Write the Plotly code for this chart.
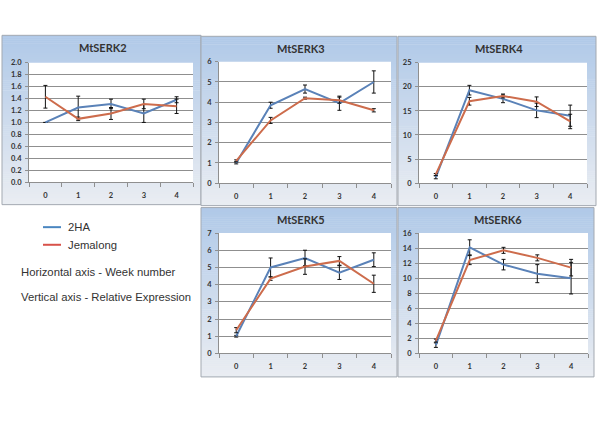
import plotly.graph_objects as go

W, H = 600, 424

weeks = ["0", "1", "2", "3", "4"]
x_vals = [0, 1, 2, 3, 4]

titles = ["MtSERK2", "MtSERK3", "MtSERK4", "MtSERK5", "MtSERK6"]

ha_serk2 = [1.00, 1.25, 1.31, 1.15, 1.38]
ha_serk2_err = [0.0, 0.19, 0.08, 0.15, 0.05]
jem_serk2 = [1.43, 1.06, 1.15, 1.31, 1.27]
jem_serk2_err = [0.19, 0.03, 0.10, 0.08, 0.12]

ha_serk3 = [1.0, 3.85, 4.65, 3.95, 5.0]
ha_serk3_err = [0.05, 0.15, 0.2, 0.35, 0.55]
jem_serk3 = [1.1, 3.1, 4.2, 4.1, 3.6]
jem_serk3_err = [0.05, 0.15, 0.05, 0.15, 0.08]

ha_serk4 = [1.2, 19.3, 17.5, 15.1, 14.0]
ha_serk4_err = [0.3, 1.0, 0.8, 1.5, 2.2]
jem_serk4 = [1.8, 17.0, 18.1, 16.9, 12.8]
jem_serk4_err = [0.2, 0.8, 0.4, 1.0, 1.5]

ha_serk5 = [1.0, 5.0, 5.55, 4.7, 5.45]
ha_serk5_err = [0.05, 0.55, 0.45, 0.4, 0.4]
jem_serk5 = [1.35, 4.35, 5.05, 5.38, 4.05]
jem_serk5_err = [0.15, 0.1, 0.45, 0.25, 0.5]

ha_serk6 = [1.1, 14.1, 11.8, 10.6, 10.0]
ha_serk6_err = [0.3, 1.0, 0.7, 1.2, 2.1]
jem_serk6 = [1.7, 12.4, 13.7, 12.7, 11.4]
jem_serk6_err = [0.2, 0.6, 0.4, 0.4, 1.1]

y_max = [2.0, 6, 25, 7, 16]
y_step = [0.2, 1, 5, 1, 2]
y_fmt = [".1f", "d", "d", "d", "d"]

series_names = ["2HA", "Jemalong"]
legend_notes = ["Horizontal axis - Week number", "Vertical axis - Relative Expression"]

ha_data = [ha_serk2, ha_serk3, ha_serk4, ha_serk5, ha_serk6]
ha_errs = [ha_serk2_err, ha_serk3_err, ha_serk4_err, ha_serk5_err, ha_serk6_err]
jem_data = [jem_serk2, jem_serk3, jem_serk4, jem_serk5, jem_serk6]
jem_errs = [jem_serk2_err, jem_serk3_err, jem_serk4_err, jem_serk5_err, jem_serk6_err]

# layout geometry (pixels)
boxes = [(2, 32, 201, 205), (201, 33, 397, 206), (398, 33, 596, 206),
         (201, 208, 397, 381), (398, 208, 594, 381)]
plots = [(29, 60, 193, 182), (219, 59, 391, 183), (419, 60, 587, 183),
         (219, 234, 391, 357), (419, 234, 588, 357)]

BLUE = "#5a82b8"
RED = "#cd6c4c"
GRID = "#8f8f8f"
TXT = "#333333"


def px(x):
    return x / W


def py(y):
    return 1 - y / H


fig = go.Figure()
shapes = []
annotations = []

top_c = (176, 201, 232)
bot_c = (234, 237, 242)

for i in range(5):
    bx0, by0, bx1, by1 = boxes[i]
    n = int(by1 - by0)
    step = 2
    for k in range(0, n, step):
        t = k / max(n - 1, 1)
        c = tuple(int(round(top_c[j] + (bot_c[j] - top_c[j]) * t)) for j in range(3))
        shapes.append(dict(type="rect", xref="paper", yref="paper",
                           x0=px(bx0), x1=px(bx1), y0=py(by0 + k), y1=py(min(by0 + k + step + 0.5, by1)),
                           fillcolor="rgb(%d,%d,%d)" % c, line=dict(width=0), layer="below"))
    shapes.append(dict(type="rect", xref="paper", yref="paper",
                       x0=px(bx0), x1=px(bx1), y0=py(by0), y1=py(by1),
                       fillcolor="rgba(0,0,0,0)", line=dict(color="#a3a9b1", width=1), layer="below"))
    pxa, pya, pxb, pyb = plots[i]
    shapes.append(dict(type="rect", xref="paper", yref="paper",
                       x0=px(pxa), x1=px(pxb), y0=py(pya), y1=py(pyb),
                       fillcolor="white", line=dict(width=0), layer="below"))
    annotations.append(dict(xref="paper", yref="paper", x=px((bx0 + bx1) / 2 + 2), y=py(by0 + 12),
                            text=titles[i], showarrow=False, xanchor="center", yanchor="middle",
                            font=dict(family="Lato", size=11, color=TXT, weight="bold")))

    sfx = "" if i == 0 else str(i + 1)
    fig.add_trace(go.Scatter(x=x_vals, y=ha_data[i], mode="lines", name=series_names[0],
                             line=dict(color=BLUE, width=2), showlegend=False,
                             error_y=dict(type="data", array=ha_errs[i], color="#111111", thickness=1, width=2),
                             xaxis="x" + sfx, yaxis="y" + sfx))
    fig.add_trace(go.Scatter(x=x_vals, y=jem_data[i], mode="lines", name=series_names[1],
                             line=dict(color=RED, width=2), showlegend=False,
                             error_y=dict(type="data", array=jem_errs[i], color="#111111", thickness=1, width=2),
                             xaxis="x" + sfx, yaxis="y" + sfx))

    fig.layout["xaxis" + sfx] = dict(
        domain=[px(pxa), px(pxb)], anchor="y" + sfx, range=[-0.5, 4.5],
        tickvals=x_vals, ticktext=weeks, ticks="", showgrid=False, zeroline=False,
        showline=True, linecolor=GRID, linewidth=1, fixedrange=True,
        minor=dict(ticks="outside", tick0=-0.5, dtick=1, ticklen=4, tickcolor=GRID, showgrid=False),
        tickfont=dict(family="Lato", size=7.5, color=TXT, weight="bold"), ticklabelstandoff=6)
    fig.layout["yaxis" + sfx] = dict(
        domain=[py(pyb), py(pya)], anchor="x" + sfx, range=[0, y_max[i]], dtick=y_step[i], tick0=0,
        tickformat=y_fmt[i], ticks="outside", ticklen=3, tickcolor=GRID,
        showgrid=True, gridcolor=GRID, gridwidth=1, zeroline=False,
        showline=True, linecolor=GRID, linewidth=1, fixedrange=True,
        tickfont=dict(family="Lato", size=7.5, color=TXT, weight="bold"), ticklabelstandoff=2)

# legend
leg_y = [228, 246]
leg_cols = ["#4a86c0", "#d8524a"]
for name, yy, col in zip(series_names, leg_y, leg_cols):
    shapes.append(dict(type="line", xref="paper", yref="paper", x0=px(43), x1=px(61), y0=py(yy), y1=py(yy),
                       line=dict(color=col, width=2)))
    annotations.append(dict(xref="paper", yref="paper", x=px(66), y=py(yy), text=name, showarrow=False,
                            xanchor="left", yanchor="middle",
                            font=dict(family="Liberation Sans", size=11.3, color=TXT)))
for note, yy in zip(legend_notes, [274, 299]):
    annotations.append(dict(xref="paper", yref="paper", x=px(19), y=py(yy), text=note, showarrow=False,
                            xanchor="left", yanchor="middle",
                            font=dict(family="Liberation Sans", size=11.3, color=TXT)))

fig.update_layout(width=W, height=H, margin=dict(l=0, r=0, t=0, b=0),
                  paper_bgcolor="white", plot_bgcolor="rgba(0,0,0,0)",
                  shapes=shapes, annotations=annotations, showlegend=False)

fig.write_html("out.html", config={"displayModeBar": False},
               post_script="document.body.style.margin='0';document.body.style.overflow='hidden';")
